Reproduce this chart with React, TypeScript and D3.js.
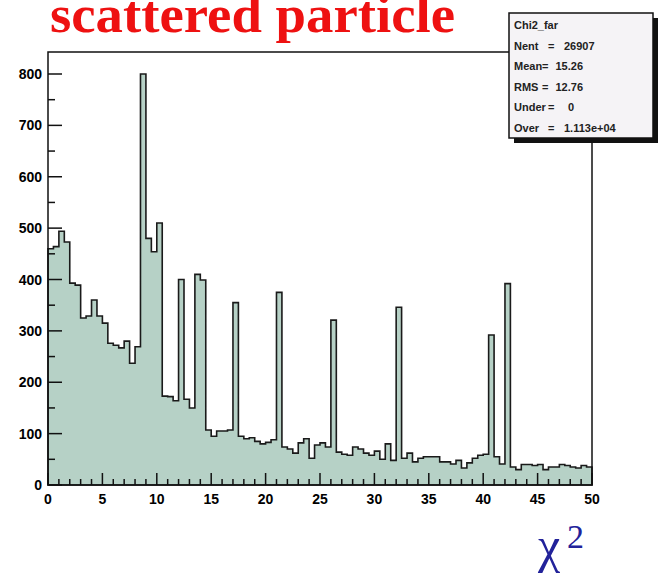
import React from "react";
import * as d3 from "d3";

const counts = [460,464,494,473,393,389,325,329,360,329,315,276,272,267,280,237,269,800,480,454,510,173,172,164,400,167,150,410,399,107,95,105,105,107,355,95,90,92,85,80,83,88,375,74,70,62,82,90,52,78,82,74,321,64,60,58,74,70,62,58,66,50,80,48,346,52,62,45,52,55,55,55,45,45,41,48,33,43,52,58,60,292,55,41,392,35,30,40,40,38,40,30,35,35,40,38,35,33,38,35];
const binWidth = 0.5;
const xTicks = [0,5,10,15,20,25,30,35,40,45,50];
const yTicks = [0,100,200,300,400,500,600,700,800];
const statLabels = ["Nent","Mean","RMS","Under","Over"];
const statValues = ["26907","15.26","12.76","0","1.113e+04"];

export default function App() {
  const L = 48, R = 592, T = 52, B = 485;
  const x = d3.scaleLinear().domain([0, 50]).range([L, R]);
  const y = d3.scaleLinear().domain([0, 800]).range([B, 74]);
  let d = `M${x(0)},${y(0)}`;
  counts.forEach((c, i) => { d += `L${x(i*binWidth)},${y(c)}L${x((i+1)*binWidth)},${y(c)}`; });
  d += `L${x(50)},${y(0)}Z`;
  const minorX = d3.range(0, 51, 1);
  const minorY = d3.range(0, 850, 50);
  const font = "Liberation Sans, Arial, sans-serif";
  const serif = "Liberation Serif, Times New Roman, serif";
  const eqX = [548, 542, 542, 548, 548];
  const valX: [number, string][] = [[564, "start"], [583, "end"], [583, "end"], [568, "start"], [564, "start"]];
  return (
    <svg width={661} height={573} style={{ position: "absolute", left: 0, top: 0 }}>
      <rect width={661} height={573} fill="#fff" />
      <path d={d} fill="#b6d1c6" stroke="#1a1a1a" strokeWidth={1.6} />
      <rect x={L} y={T} width={R - L} height={B - T} fill="none" stroke="#111" strokeWidth={1.5} />
      {minorX.map(v => <line key={"mx"+v} x1={x(v)} x2={x(v)} y1={B} y2={B - (v % 5 === 0 ? 12 : 6)} stroke="#111" strokeWidth={1.5} />)}
      {minorY.map(v => <line key={"my"+v} x1={L} x2={L + (v % 100 === 0 ? 14 : 7)} y1={y(v)} y2={y(v)} stroke="#111" strokeWidth={1.5} />)}
      {xTicks.map(v => <text key={"xt"+v} x={x(v)} y={B + 19} textAnchor="middle" fontFamily={font} fontWeight="bold" fontSize={14}>{v}</text>)}
      {yTicks.map(v => <text key={"yt"+v} x={L - 6} y={y(v) + 5} textAnchor="end" fontFamily={font} fontWeight="bold" fontSize={14}>{v}</text>)}
      <text x={50} y={32} fill="#ee1111" fontFamily={serif} fontWeight="bold" fontSize={53} textLength={405} lengthAdjust="spacingAndGlyphs">scattered particle</text>
      <text x={538} y={562} fill="#22229a" fontFamily={serif} fontSize={50}>χ</text>
      <text x={567} y={548} fill="#22229a" fontFamily={serif} fontSize={34}>2</text>
      <rect x={514} y={18} width={144} height={125} fill="#111" />
      <rect x={509} y={13} width={144} height={125} fill="#f5f3f6" stroke="#111" strokeWidth={1.5} />
      <text x={514} y={29} fontFamily={font} fontWeight="bold" fontSize={11} fill="#222">Chi2_far</text>
      {statLabels.map((s, i) => {
        const yy = 29 + (i + 1) * 20.5;
        return (
          <g key={i} fontFamily={font} fontWeight="bold" fontSize={11} fill="#222">
            <text x={514} y={yy}>{s}</text>
            <text x={eqX[i]} y={yy}>=</text>
            <text x={valX[i][0]} y={yy} textAnchor={valX[i][1] as any}>{statValues[i]}</text>
          </g>
        );
      })}
    </svg>
  );
}
